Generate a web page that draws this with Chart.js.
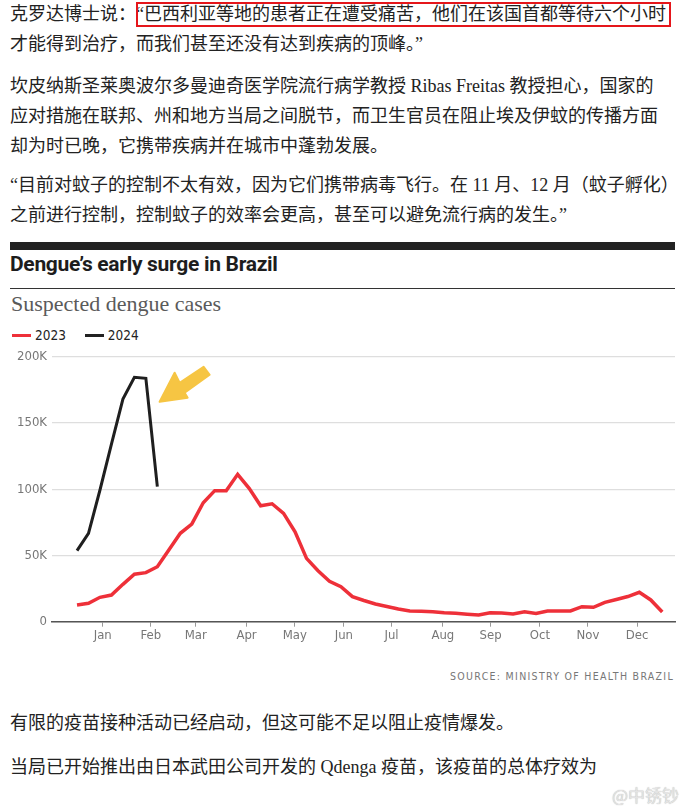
<!DOCTYPE html>
<html>
<head>
<meta charset="utf-8">
<script src="https://cdn.jsdelivr.net/npm/chart.js@4.4.1/dist/chart.umd.min.js"></script>
<style>
  body { margin: 0; background: #fff; }
  #page { position: relative; width: 687px; height: 811px; overflow: hidden; background: #fff; }
  .p { position: absolute; left: 10px; margin: 0; font-family: "Liberation Serif", "Noto Sans CJK SC", serif; font-size: 18px; line-height: 30px; color: #222; white-space: nowrap; }
  #redbox { position: absolute; left: 136px; top: 2px; width: 531px; height: 21px; border: 2px solid #e5161b; }
  #topbar { position: absolute; left: 10px; top: 242px; width: 665px; height: 8px; background: #222; }
  #title { position: absolute; left: 10px; top: 252px; font-family: Roboto, sans-serif; font-weight: 700; font-size: 21px; letter-spacing: -0.3px; color: #1d1d1d; }
  #rule { position: absolute; left: 10px; top: 288px; width: 665px; height: 1px; background: #333; }
  #subtitle { position: absolute; left: 11px; top: 291px; font-family: "Liberation Serif", serif; font-size: 22px; color: #5a5a5a; }
  #legend { position: absolute; left: 12px; top: 327px; font-family: "DejaVu Sans Condensed", "DejaVu Sans", sans-serif; font-size: 13.5px; color: #222; }
  .key { display: inline-block; width: 19px; height: 3px; vertical-align: middle; margin-right: 4px; position: relative; top: -1px; }
  .item { margin-right: 15px; }
  #chart { position: absolute; left: 0; top: 340px; }
  #source { position: absolute; right: 13px; top: 670px; font-family: "DejaVu Sans Condensed", "DejaVu Sans", sans-serif; font-size: 10.5px; letter-spacing: 1.3px; color: #777; }
  #wm { position: absolute; right: 8px; top: 782px; font-family: "Noto Sans CJK SC", sans-serif; font-size: 17px; color: #e4e4e4; text-shadow: 0 0 1px #aaa; }
</style>
</head>
<body>
<div id="page">
  <p class="p" style="top:-1px">克罗达博士说：“巴西利亚等地的患者正在遭受痛苦，他们在该国首都等待六个小时<br>才能得到治疗，而我们甚至还没有达到疾病的顶峰。”</p>
  <div id="redbox"></div>
  <p class="p" style="top:71px">坎皮纳斯圣莱奥波尔多曼迪奇医学院流行病学教授 Ribas Freitas 教授担心，国家的<br>应对措施在联邦、州和地方当局之间脱节，而卫生官员在阻止埃及伊蚊的传播方面<br>却为时已晚，它携带疾病并在城市中蓬勃发展。</p>
  <p class="p" style="top:170px">“目前对蚊子的控制不太有效，因为它们携带病毒飞行。在 11 月、12 月（蚊子孵化）<br>之前进行控制，控制蚊子的效率会更高，甚至可以避免流行病的发生。”</p>

  <div id="topbar"></div>
  <div id="title">Dengue’s early surge in Brazil</div>
  <div id="rule"></div>
  <div id="subtitle">Suspected dengue cases</div>
  <div id="legend">
    <span class="item"><span class="key" style="background:#ee3039"></span>2023</span>
    <span class="item"><span class="key" style="background:#222"></span>2024</span>
  </div>
  <canvas id="chart" width="687" height="310"></canvas>
  <div id="source">SOURCE: MINISTRY OF HEALTH BRAZIL</div>

  <p class="p" style="top:708px">有限的疫苗接种活动已经启动，但这可能不足以阻止疫情爆发。</p>
  <p class="p" style="top:752px">当局已开始推出由日本武田公司开发的 Qdenga 疫苗，该疫苗的总体疗效为</p>
  <div id="wm">@中锈钞</div>
</div>

<script>
// weekly suspected cases, week 0 = first plotted week
const cases2023 = [
    12600, 13900, 18400, 20100, 28200, 35800, 37000, 41500, 54100, 66700,
    73700, 89800, 98900, 98900, 111200, 100700, 87500, 89000, 81800, 67900,
    47800, 38500, 30500, 26400, 18900, 16000, 13400, 11500, 9600, 8100,
    7800, 7500, 6700, 6300, 5700, 5100, 6800, 6500, 5800, 7500,
    6200, 8100, 8100, 8100, 11300, 10900, 14600, 16800, 19000, 22200,
    16400, 7300
];
const cases2024 = [53600, 66700, 99400, 134000, 168000, 184400, 183700, 102000];

// month tick positions (in weeks) and labels
const monthWeeks = [2.24, 6.43, 10.35, 14.77, 18.98, 23.25, 27.41, 31.88, 36.04, 40.34, 44.52, 48.8];
const monthLabels = ["Jan", "Feb", "Mar", "Apr", "May", "Jun", "Jul", "Aug", "Sep", "Oct", "Nov", "Dec"];

const yTicks = [0, 50000, 100000, 150000, 200000];

const tickFont = { family: "'DejaVu Sans Condensed', 'DejaVu Sans', sans-serif", size: 13 };

const arrowPlugin = {
    id: "arrow",
    afterDatasetsDraw(chart) {
        const { ctx, scales } = chart;
        const x = scales.x.getPixelForValue(7.2);
        const y = scales.y.getPixelForValue(166000);
        const pts = [[0, 0], [15, -29], [20, -19], [44, -35], [50, -27], [25, -9], [28, -4]];
        ctx.save();
        ctx.beginPath();
        pts.forEach((p, i) => i ? ctx.lineTo(x + p[0], y + p[1]) : ctx.moveTo(x + p[0], y + p[1]));
        ctx.closePath();
        ctx.fillStyle = "#f6c543";
        ctx.strokeStyle = "#f6c543";
        ctx.lineWidth = 2;
        ctx.lineJoin = "round";
        ctx.fill();
        ctx.stroke();
        ctx.restore();
    }
};

new Chart(document.getElementById("chart"), {
    type: "line",
    data: {
        datasets: [
            {
                label: "2023",
                data: cases2023.map((v, i) => ({ x: i, y: v })),
                borderColor: "#ee3039",
                borderWidth: 3.5,
                pointRadius: 0,
                tension: 0
            },
            {
                label: "2024",
                data: cases2024.map((v, i) => ({ x: i, y: v })),
                borderColor: "#1f1f1f",
                borderWidth: 3,
                pointRadius: 0,
                tension: 0
            }
        ]
    },
    options: {
        responsive: false,
        animation: false,
        layout: { padding: { top: 16.7, right: 12, left: 0, bottom: 0 } },
        plugins: { legend: { display: false }, tooltip: { enabled: false } },
        scales: {
            x: {
                type: "linear",
                min: -2.18,
                max: 52.11,
                afterBuildTicks: (s) => { s.ticks = monthWeeks.map(v => ({ value: v })); },
                afterFit: (s) => { s.height = 28.3; },
                ticks: {
                    autoSkip: false,
                    maxRotation: 0,
                    padding: 1,
                    color: "#777",
                    font: tickFont,
                    callback: (v, i) => monthLabels[i]
                },
                grid: { drawOnChartArea: false, drawTicks: true, tickLength: 5, color: "#999" },
                border: { color: "#555", width: 1.5 }
            },
            y: {
                min: 0,
                max: 200000,
                afterBuildTicks: (s) => { s.ticks = yTicks.map(v => ({ value: v })); },
                afterFit: (s) => { s.width = 52; },
                ticks: {
                    padding: 5,
                    color: "#777",
                    font: tickFont,
                    callback: (v) => v === 0 ? "0" : (v / 1000) + "K"
                },
                grid: { color: "#dedede", lineWidth: 1.3, drawTicks: false },
                border: { display: false }
            }
        }
    },
    plugins: [arrowPlugin]
});
</script>
</body>
</html>
